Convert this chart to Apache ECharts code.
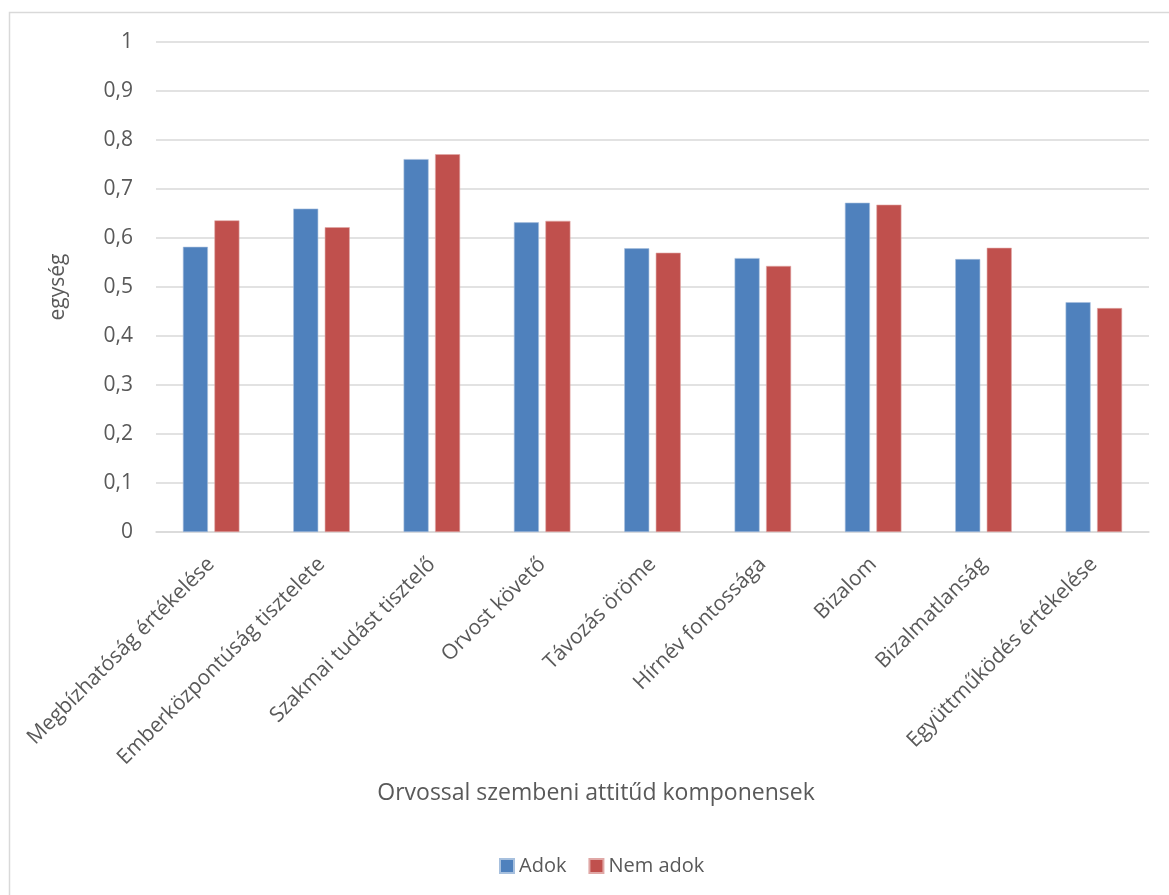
<!DOCTYPE html>
<html>
<head>
<meta charset="utf-8">
<script src="https://cdn.jsdelivr.net/npm/echarts@6/dist/echarts.min.js"></script>
<style>
  html, body { margin: 0; padding: 0; background: #fff; }
  #chart { width: 1169px; height: 895px; }
</style>
</head>
<body>
<div id="chart"></div>
<script>
// Attitude components toward the physician, by group
const categories = [
  'Megbízhatóság értékelése',
  'Emberközpontúság tisztelete',
  'Szakmai tudást tisztelő',
  'Orvost követő',
  'Távozás öröme',
  'Hírnév fontossága',
  'Bizalom',
  'Bizalmatlanság',
  'Együttműködés értékelése'
];
const adok    = [0.582, 0.660, 0.761, 0.632, 0.579, 0.559, 0.672, 0.557, 0.469];
const nemAdok = [0.636, 0.622, 0.771, 0.635, 0.570, 0.543, 0.668, 0.580, 0.457];
const yTicks = [0, 0.1, 0.2, 0.3, 0.4, 0.5, 0.6, 0.7, 0.8, 0.9, 1];
const xTitle = 'Orvossal szembeni attitűd komponensek';
const yTitle = 'egység';

const FONT = '"Open Sans", "Noto Sans", sans-serif';
const TEXT = '#595959';

const chart = echarts.init(document.getElementById('chart'), null, { renderer: 'canvas' });

chart.setOption({
  animation: false,
  textStyle: { fontFamily: FONT },
  graphic: [
    {
      type: 'rect',
      shape: { x: 9.5, y: 12.5, width: 1200, height: 900 },
      style: { fill: 'none', stroke: '#d9d9d9', lineWidth: 1.5 },
      silent: true
    },
    {
      type: 'text',
      x: 596,
      y: 793,
      style: {
        text: xTitle,
        fontSize: 23,
        fontFamily: FONT,
        fill: TEXT,
        align: 'center',
        verticalAlign: 'middle'
      },
      silent: true
    }
  ],
  grid: { left: 156, right: 20, top: 42, bottom: 363, containLabel: false },
  legend: {
    data: ['Adok', 'Nem adok'],
    top: 851,
    left: 494,
    itemWidth: 14,
    itemHeight: 14,
    itemGap: 22,
    icon: 'rect',
    textStyle: { fontSize: 20, color: TEXT, fontFamily: FONT }
  },
  xAxis: {
    type: 'category',
    data: categories,
    axisLine: { lineStyle: { color: '#d9d9d9', width: 1.5 } },
    axisTick: { show: false },
    axisLabel: {
      interval: 0,
      rotate: 45,
      margin: 29,
      fontSize: 21,
      color: TEXT,
      fontFamily: FONT
    }
  },
  yAxis: {
    type: 'value',
    min: 0,
    max: 1,
    interval: 0.1,
    name: yTitle,
    nameLocation: 'middle',
    nameGap: 87,
    nameMoveOverlap: false,
    nameRotate: 90,
    nameTextStyle: { fontSize: 21, color: TEXT, fontFamily: FONT },
    axisLine: { show: false },
    axisTick: { show: false },
    splitLine: { lineStyle: { color: '#d9d9d9', width: 1.5 } },
    axisLabel: {
      margin: 23,
      fontSize: 21,
      color: TEXT,
      fontFamily: FONT,
      formatter: function (v) {
        const t = yTicks.find(function (x) { return Math.abs(x - v) < 1e-9; });
        const val = t === undefined ? v : t;
        return String(Math.round(val * 10) / 10).replace('.', ',');
      }
    }
  },
  series: [
    {
      name: 'Adok',
      type: 'bar',
      data: adok,
      barWidth: 25,
      barGap: '26%',
      itemStyle: { color: '#4f81bd', borderColor: '#a7c0de', borderWidth: 0.6 }
    },
    {
      name: 'Nem adok',
      type: 'bar',
      data: nemAdok,
      barWidth: 25,
      itemStyle: { color: '#c0504d', borderColor: '#e0a8a6', borderWidth: 0.6 }
    }
  ]
});
</script>
</body>
</html>
